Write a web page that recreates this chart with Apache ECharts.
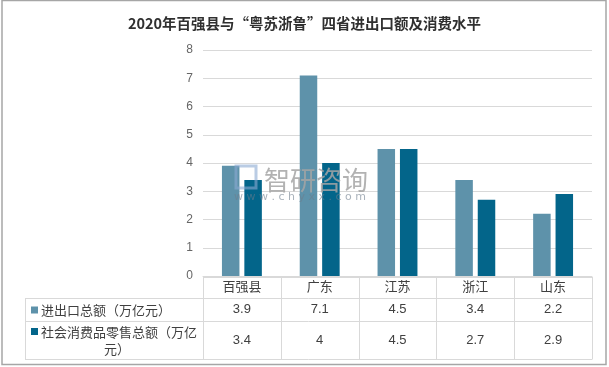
<!DOCTYPE html>
<html>
<head>
<meta charset="utf-8">
<script src="https://cdn.jsdelivr.net/npm/echarts@6/dist/echarts.min.js"></script>
<style>
html,body{margin:0;padding:0;background:#fff;}
#c{width:609px;height:367px;}
</style>
</head>
<body>
<div id="c"></div>
<script>
var titleText = '2020年百强县与“粤苏浙鲁”四省进出口额及消费水平';
var categories = ['百强县', '广东', '江苏', '浙江', '山东'];
var seriesNames = ['进出口总额（万亿元）', '社会消费品零售总额（万亿元）'];
var importExport = [3.9, 7.1, 4.5, 3.4, 2.2];
var retailSales = [3.4, 4, 4.5, 2.7, 2.9];
var yTicks = [0, 1, 2, 3, 4, 5, 6, 7, 8];
var colors = ['#5E92AA', '#03658A'];

var chart = echarts.init(document.getElementById('c'), null, {renderer: 'canvas'});
var gridLeft = 203, gridRight = 609 - 592, gridTop = 50, gridBottom = 367 - 276;
var option = {
  animation: false,
  backgroundColor: '#fff',
  title: {
    text: titleText, left: 'center', top: 11,
    textStyle: {fontFamily: 'Noto Sans CJK SC', fontSize: 14.5, fontWeight: 'bold', color: '#303030'}
  },
  grid: {left: gridLeft, right: gridRight, top: gridTop, bottom: gridBottom},
  xAxis: {
    type: 'category', data: categories,
    axisLine: {show: true, lineStyle: {color: '#D9D9D9'}},
    axisTick: {show: false},
    axisLabel: {margin: 4, fontSize: 13, color: '#404040', fontFamily: 'Noto Sans CJK SC'}
  },
  yAxis: {
    type: 'value', min: yTicks[0], max: yTicks[yTicks.length - 1], interval: 1,
    axisLine: {show: false}, axisTick: {show: false},
    axisLabel: {margin: 10, fontSize: 12, color: '#666666', fontFamily: 'Liberation Sans'},
    splitLine: {lineStyle: {color: '#D9D9D9'}}
  },
  series: [
    {name: seriesNames[0], type: 'bar', data: importExport, barWidth: '22.5%', barGap: '28%', itemStyle: {color: colors[0]}},
    {name: seriesNames[1], type: 'bar', data: retailSales, barWidth: '22.5%', barGap: '28%', itemStyle: {color: colors[1]}}
  ]
};
chart.setOption(option);

var g = [];
var lineColor = '#D9D9D9';
var tblLeft = 25, tblRight = 592, yHead = 277, yR1 = 298, yR2 = 321, yBot = 359;
var colEdges = [tblLeft];
var half = (chart.convertToPixel({xAxisIndex: 0}, categories[1]) - chart.convertToPixel({xAxisIndex: 0}, categories[0])) / 2;
for (var i = 0; i < categories.length; i++) {
  colEdges.push(chart.convertToPixel({xAxisIndex: 0}, categories[i]) - half);
}
colEdges.push(tblRight);
[[colEdges[1], yHead], [tblLeft, yR1], [tblLeft, yR2], [tblLeft, yBot]].forEach(function (p) {
  g.push({type: 'line', shape: {x1: p[0], y1: p[1] + 0.5, x2: tblRight, y2: p[1] + 0.5}, style: {stroke: lineColor, lineWidth: 1}});
});
colEdges.forEach(function (x, idx) {
  var y1 = idx === 0 ? yR1 : yHead;
  g.push({type: 'line', shape: {x1: Math.round(x) + 0.5, y1: y1, x2: Math.round(x) + 0.5, y2: yBot + 0.5}, style: {stroke: lineColor, lineWidth: 1}});
});
var rows = [[importExport, (yR1 + yR2) / 2], [retailSales, (yR2 + yBot) / 2]];
rows.forEach(function (r) {
  r[0].forEach(function (v, i) {
    g.push({type: 'text', x: chart.convertToPixel({xAxisIndex: 0}, categories[i]), y: r[1],
      style: {text: String(v), textAlign: 'center', textVerticalAlign: 'middle', fill: '#404040', font: '13px "Liberation Sans", sans-serif'}});
  });
});
g.push({type: 'rect', shape: {x: 31, y: (yR1 + yR2) / 2 - 3, width: 7, height: 7}, style: {fill: colors[0]}});
g.push({type: 'text', x: 41, y: (yR1 + yR2) / 2 + 1,
  style: {text: seriesNames[0], textVerticalAlign: 'middle', fill: '#404040', font: '13px "Noto Sans CJK SC"', textLetterSpacing: 0.5}});
g.push({type: 'rect', shape: {x: 31, y: 328, width: 7, height: 7}, style: {fill: colors[1]}});
var name2 = seriesNames[1];
g.push({type: 'text', x: 41, y: 332,
  style: {text: name2.slice(0, 12), textVerticalAlign: 'middle', fill: '#404040', font: '13px "Noto Sans CJK SC"', textLetterSpacing: 1}});
g.push({type: 'text', x: 117, y: 349,
  style: {text: name2.slice(12), textAlign: 'center', textVerticalAlign: 'middle', fill: '#404040', font: '13px "Noto Sans CJK SC"'}});
// watermark (separate layer above the bars)
g.push({type: 'text', zlevel: 5, x: 264, y: 180, style: {text: '智研咨询', textVerticalAlign: 'middle', fill: 'rgba(165,165,165,0.85)', font: '26px "Noto Sans CJK SC"', textLetterSpacing: 3}});
g.push({type: 'text', zlevel: 5, x: 234, y: 197, style: {text: 'w w w . c h y x x . c o m', textVerticalAlign: 'middle', fill: 'rgba(110,125,140,0.6)', font: '11px "DejaVu Sans"'}});
g.push({type: 'rect', zlevel: 5, shape: {x: 236, y: 166, width: 20, height: 22}, style: {fill: 'none', stroke: 'rgba(140,170,210,0.6)', lineWidth: 3}});
g.push({type: 'rect', shape: {x: 2, y: 0.5, width: 604, height: 364}, style: {fill: 'none', stroke: '#A6A6A6', lineWidth: 1.5}});
chart.setOption({graphic: g});
</script>
</body>
</html>
